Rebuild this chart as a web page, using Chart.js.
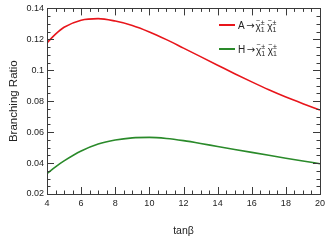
<!DOCTYPE html>
<html>
<head>
<meta charset="utf-8">
<script src="https://cdn.jsdelivr.net/npm/chart.js@4/dist/chart.umd.min.js"></script>
<style>
  html, body { margin: 0; padding: 0; background: #fff; }
  #wrap { width: 331px; height: 241px; }
</style>
</head>
<body>
<div id="wrap"><canvas id="br-chart" width="331" height="241"></canvas></div>
<script>
const tanBeta = [4, 4.5, 5, 6, 7, 8, 9, 10, 11, 12, 13, 14, 15, 16, 17, 18, 19, 20];
const brA = [0.1177, 0.1234, 0.1278, 0.1324, 0.1334, 0.1318, 0.1290, 0.1248, 0.1198, 0.1143, 0.1088, 0.1033, 0.0978, 0.0925, 0.0874, 0.0827, 0.0784, 0.0743];
const brH = [0.0332, 0.0376, 0.0414, 0.0478, 0.0523, 0.0549, 0.0563, 0.0566, 0.0559, 0.0545, 0.0527, 0.0507, 0.0488, 0.0469, 0.0450, 0.0431, 0.0413, 0.0396];
const legendNames = ['A', 'H'];
const yTicks = [0.02, 0.04, 0.06, 0.08, 0.1, 0.12, 0.14];
const xTicks = [4, 6, 8, 10, 12, 14, 16, 18, 20];

const RED = '#e8151b';
const GREEN = '#2a8a2a';
const AXIS = '#3a3a3a';
const FONT = '"Liberation Sans", Arial, sans-serif';

// inward ticks on all four sides plus the frame
const frameTicks = {
    id: 'frameTicks',
    afterDraw(chart) {
        const ctx = chart.ctx;
        const a = chart.chartArea;
        const xs = chart.scales.x;
        const ys = chart.scales.y;
        ctx.save();
        ctx.strokeStyle = AXIS;
        ctx.lineWidth = 1;
        ctx.strokeRect(Math.round(a.left) + 0.5, Math.round(a.top) + 0.5,
            Math.round(a.right - a.left), Math.round(a.bottom - a.top));
        ctx.beginPath();
        for (let i = 0; i <= 24; i++) {
            const v = 0.02 + i * 0.005;
            const len = i % 4 === 0 ? 7 : 3.5;
            const py = Math.round(ys.getPixelForValue(v)) + 0.5;
            ctx.moveTo(a.left, py); ctx.lineTo(a.left + len, py);
            ctx.moveTo(a.right, py); ctx.lineTo(a.right - len, py);
        }
        for (let i = 0; i <= 32; i++) {
            const v = 4 + i * 0.5;
            const len = i % 4 === 0 ? 7 : 3.5;
            const px = Math.round(xs.getPixelForValue(v)) + 0.5;
            ctx.moveTo(px, a.bottom); ctx.lineTo(px, a.bottom - len);
            ctx.moveTo(px, a.top); ctx.lineTo(px, a.top + len);
        }
        ctx.stroke();
        ctx.restore();
    }
};

// legend: "X → χ̃1± χ̃1±" drawn with sub/superscripts
const chiLegend = {
    id: 'chiLegend',
    afterDraw(chart) {
        const ctx = chart.ctx;
        const entries = [
            { name: legendNames[0], color: RED, y: 25 },
            { name: legendNames[1], color: GREEN, y: 49 }
        ];
        ctx.save();
        ctx.fillStyle = '#222';
        ctx.textBaseline = 'alphabetic';
        entries.forEach(e => {
            ctx.strokeStyle = e.color;
            ctx.lineWidth = 2;
            ctx.beginPath();
            ctx.moveTo(219, e.y); ctx.lineTo(235, e.y);
            ctx.stroke();
            const base = e.y + 3.5;
            let x = 238;
            ctx.font = '10px ' + FONT;
            ctx.fillText(e.name, x, base);
            x += ctx.measureText(e.name).width + 1.5;
            ctx.font = '10px "DejaVu Sans", sans-serif';
            ctx.fillText('\u2192', x, base);
            x += ctx.measureText('\u2192').width + 1;
            for (let k = 0; k < 2; k++) {
                ctx.font = '10px ' + FONT;
                ctx.fillText('\u03c7', x, base + 1);
                const w = ctx.measureText('\u03c7').width;
                ctx.font = '7px ' + FONT;
                ctx.fillText('~', x + 0.5, base - 6);
                ctx.fillText('1', x + w, base + 3);
                ctx.fillText('\u00b1', x + w, base - 4);
                x += w + ctx.measureText('\u00b1').width + 2.5;
            }
        });
        ctx.restore();
    }
};

const toPoints = arr => tanBeta.map((t, i) => ({ x: t, y: arr[i] }));

new Chart(document.getElementById('br-chart').getContext('2d'), {
    type: 'line',
    data: {
        datasets: [
            { data: toPoints(brA), borderColor: RED, borderWidth: 1.6, pointRadius: 0, cubicInterpolationMode: 'monotone' },
            { data: toPoints(brH), borderColor: GREEN, borderWidth: 1.6, pointRadius: 0, cubicInterpolationMode: 'monotone' }
        ]
    },
    options: {
        responsive: false,
        animation: false,
        layout: { padding: { left: 0, right: 11, top: 6, bottom: 0 } },
        plugins: { legend: { display: false }, tooltip: { enabled: false } },
        scales: {
            x: {
                type: 'linear', min: 4, max: 20,
                afterFit: s => { s.height = 47; },
                afterBuildTicks: s => { s.ticks = xTicks.map(v => ({ value: v })); },
                grid: { display: false, drawTicks: false },
                border: { display: false },
                ticks: { color: '#222', padding: 4, font: { family: FONT, size: 9 }, maxRotation: 0 },
                title: { display: true, text: 'tan\u03b2', color: '#222', padding: { top: 0, bottom: 4 }, font: { family: FONT, size: 10.5 } }
            },
            y: {
                type: 'linear', min: 0.02, max: 0.14,
                afterFit: s => { s.width = 47; },
                afterBuildTicks: s => { s.ticks = yTicks.map(v => ({ value: v })); },
                grid: { display: false, drawTicks: false },
                border: { display: false },
                ticks: { color: '#222', padding: 3, font: { family: FONT, size: 9 }, callback: v => String(+v.toFixed(2)) },
                title: { display: true, text: 'Branching Ratio', color: '#222', padding: { top: 7, bottom: 0 }, font: { family: FONT, size: 11.5 } }
            }
        }
    },
    plugins: [frameTicks, chiLegend]
});
</script>
</body>
</html>
